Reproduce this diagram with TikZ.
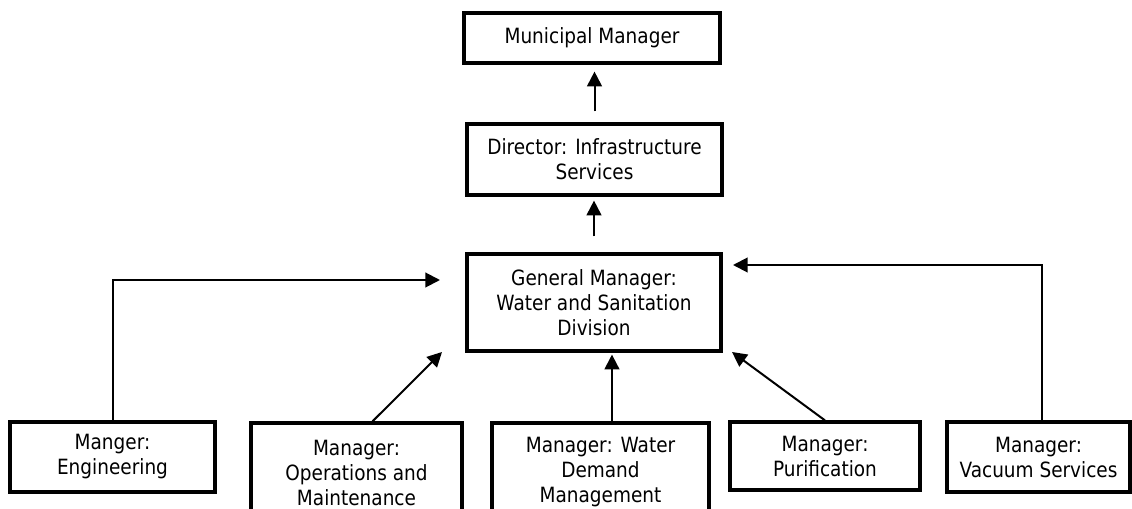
\documentclass[tikz,border=0pt]{standalone}
\usepackage{fontspec}
\setmainfont{DejaVu Sans}[FakeStretch=0.88]
\usetikzlibrary{arrows.meta}
\tikzset{
  box/.style={draw, line width=2.4pt, align=center, inner sep=2pt,
    font=\fontsize{15.75pt}{18.75pt}\selectfont},
  arr/.style={line width=1.5pt, -{Triangle[length=11pt,width=11pt]}}
}

\begin{document}
\begin{tikzpicture}[x=0.75pt,y=-0.75pt]
    \useasboundingbox (0,0) rectangle (1132,509);
    \node[box, minimum width=192pt, minimum height=37.5pt] (mm) at (592,38) {Municipal Manager};
    \node[box, minimum width=191.25pt, minimum height=53.25pt] (dir) at (594.5,159.5) {Director: Infrastructure\\Services};
    \node[box, minimum width=190.5pt, minimum height=72.75pt] (gm) at (594,302.5) {General Manager:\\Water and Sanitation\\Division};
    \node[box, minimum width=153.75pt, minimum height=52.5pt] (eng) at (112.5,457) {Manger:\\Engineering};
    \node[box, minimum width=158.25pt, minimum height=74.25pt] (ops) at (356.5,472.5) {Manager:\\Operations and\\Maintenance};
    \node[box, minimum width=162.75pt, minimum height=74.25pt] (wdm) at (600.5,472.5) {Manager: Water\\Demand\\Management};
    \node[box, minimum width=142.5pt, minimum height=51pt] (pur) at (825,456) {Manager:\\Purification};
    \node[box, minimum width=137.25pt, minimum height=52.5pt] (vac) at (1038.5,457) {Manager:\\Vacuum Services};
    \coordinate (engtip) at (440,280);
    \coordinate (opstip) at (442,352);
    \coordinate (wdmtail) at ([xshift=8.6pt]wdm.north);
    \coordinate (purtip) at (732,352);
    \coordinate (vactip) at (733,265);
    \draw[arr, shorten <=8.25pt, shorten >=5.25pt] (dir.north) -- (mm.south -| dir.north);
    \draw[arr, shorten <=12pt, shorten >=3pt] (gm.north) -- (dir.south -| gm.north);
    \draw[arr] (eng.north) |- (engtip);
    \draw[arr] ([xshift=12pt]ops.north) -- (opstip);
    \draw[arr, shorten >=1.5pt] (wdmtail) -- (wdmtail |- gm.south);
    \draw[arr] (pur.north) -- (purtip);
    \draw[arr] ([xshift=2.6pt]vac.north) |- (vactip);
\end{tikzpicture}
\end{document}
